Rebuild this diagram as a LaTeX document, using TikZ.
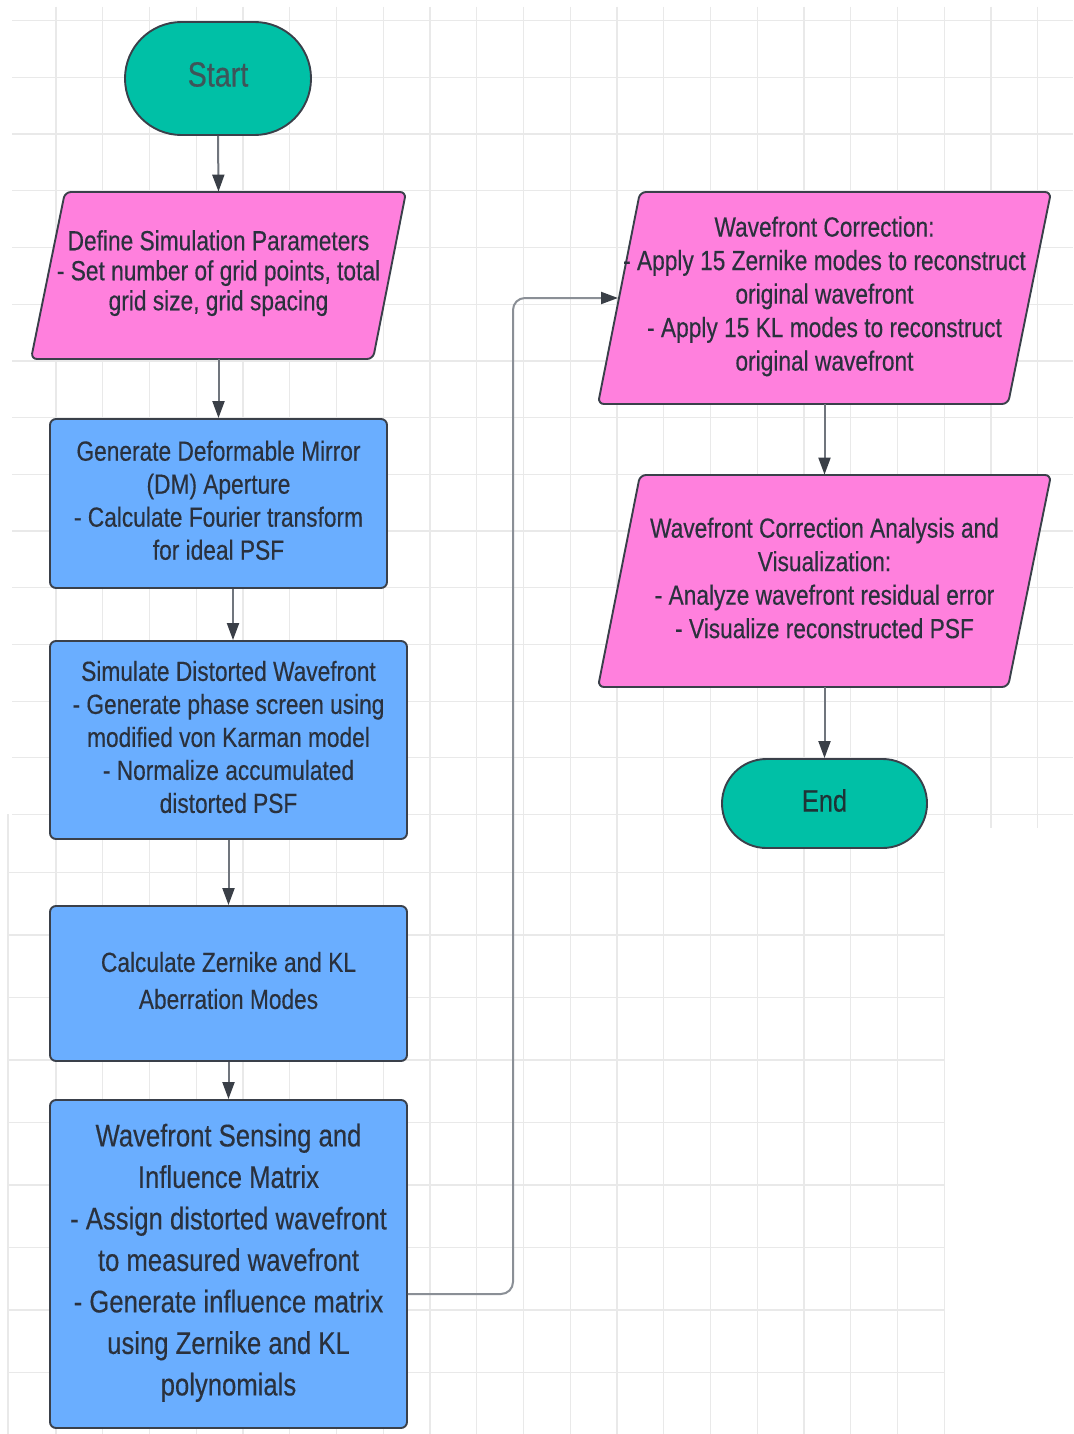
\documentclass[tikz,border=0pt]{standalone}
\usepackage{fontspec}
\setmainfont[FakeStretch=0.82,FakeBold=0.35]{Liberation Sans}
\usetikzlibrary{arrows.meta}
\definecolor{tealf}{HTML}{00C0A6}
\definecolor{pinkf}{HTML}{FF80DD}
\definecolor{bluef}{HTML}{6AAEFF}
\definecolor{edgec}{HTML}{3A404A}
\definecolor{textc}{HTML}{2A313D}
\definecolor{starttext}{HTML}{3E5559}
\definecolor{endtext}{HTML}{1F3336}
\definecolor{gridc}{HTML}{E9E9E9}
\definecolor{linec}{HTML}{70757D}
\definecolor{loopc}{HTML}{8A8F96}
\definecolor{headc}{HTML}{3A3F47}
\begin{document}
\begin{tikzpicture}[x=0.5pt,y=-0.5pt,
  txt/.style={text=textc,align=center,inner sep=0pt,font=\fontsize{13.85pt}{16.5pt}\selectfont},
  shapeedge/.style={draw=edgec,line width=0.95pt},
  blockbox/.style={shapeedge,fill=bluef,rounded corners=3pt},
  para/.style={shapeedge,fill=pinkf,rounded corners=3pt},
  termbox/.style={shapeedge,fill=tealf},
  arr/.style={draw=linec,line width=1pt,-{Triangle[length=8.5pt,width=6pt,color=headc]}},
  gridline/.style={draw=gridc,line width=0.6pt}]
\useasboundingbox (0,0) rectangle (1073,1434);
\fill[white] (0,0) rectangle (1073,1434);
% grid
\foreach \k in {0,...,21}{
  \pgfmathsetmacro\gx{56+46.75*\k}
  \pgfmathsetmacro\gy{\gx<945 ? 1434 : 828}
  \draw[gridline] (\gx,7) -- (\gx,\gy);
}
\foreach \k in {0,...,14}{
  \draw[gridline] (12,{20.7+56.7*\k}) -- (1073,{20.7+56.7*\k});
}
\foreach \k in {0,...,8}{
  \draw[gridline] (8,{872.5+62.5*\k}) -- (945,{872.5+62.5*\k});
}
\draw[gridline] (8,814) -- (8,1434);

% parallelogram shapes
\draw[para] (65,192) -- (406,192) -- (373,359) -- (31,359) -- cycle;
\draw[para] (640,192) -- (1051,192) -- (1008,404) -- (598,404) -- cycle;
\draw[para] (640,475) -- (1051,475) -- (1008,687) -- (598,687) -- cycle;

% shape nodes
\node[termbox, minimum width=93pt, minimum height=56.5pt, rounded corners=28.2pt] (start) at (218,78.5) {};
\node[minimum width=187.5pt, minimum height=83.5pt, inner sep=0pt] (def) at (218.5,275.5) {};
\node[blockbox, minimum width=168.5pt, minimum height=84.5pt] (dm) at (218.5,503.5) {};
\node[blockbox, minimum width=178.5pt, minimum height=99pt] (sim) at (228.5,740) {};
\node[blockbox, minimum width=178.5pt, minimum height=77.5pt] (calc) at (228.5,983.5) {};
\node[blockbox, minimum width=178.5pt, minimum height=164pt] (wfs) at (228.5,1264) {};
\node[minimum width=226.5pt, minimum height=106pt, inner sep=0pt] (wc) at (824.5,298) {};
\node[minimum width=226.5pt, minimum height=106pt, inner sep=0pt] (wca) at (824.5,581) {};
\node[termbox, minimum width=102.5pt, minimum height=44.5pt, rounded corners=22.2pt] (end) at (824.5,803.5) {};

% texts
\node[txt, text=starttext, font=\fontsize{17.5pt}{20pt}\selectfont] (startt) at ([yshift=2pt]start.center) {Start};
\node[txt, font=\fontsize{13.85pt}{15pt}\selectfont] (deft) at ([yshift=1.2pt]def.center)
  {Define Simulation Parameters\\- Set number of grid points, total\\grid size, grid spacing};
\node[txt] (dmt) at ([yshift=1.6pt]dm.center)
  {Generate Deformable Mirror\\(DM) Aperture\\- Calculate Fourier transform\\for ideal PSF};
\node[txt] (simt) at ([yshift=1.5pt]sim.center)
  {Simulate Distorted Wavefront\\- Generate phase screen using\\modified von Karman model\\- Normalize accumulated\\distorted PSF};
\node[txt, font=\fontsize{13.85pt}{18.5pt}\selectfont] (calct) at ([yshift=1.5pt]calc.center)
  {Calculate Zernike and KL\\Aberration Modes};
\node[txt, font=\fontsize{15.65pt}{20.75pt}\selectfont] (wfst) at ([yshift=0.6pt]wfs.center)
  {Wavefront Sensing and\\Influence Matrix\\- Assign distorted wavefront\\to measured wavefront\\- Generate influence matrix\\using Zernike and KL\\polynomials};
\node[txt, font=\fontsize{13.85pt}{16.75pt}\selectfont] (wct) at ([yshift=0.8pt]wc.center)
  {Wavefront Correction:\\- Apply 15 Zernike modes to reconstruct\\original wavefront\\- Apply 15 KL modes to reconstruct\\original wavefront};
\node[txt, font=\fontsize{13.85pt}{16.75pt}\selectfont] (wcat) at ([yshift=1.5pt]wca.center)
  {Wavefront Correction Analysis and\\Visualization:\\- Analyze wavefront residual error\\- Visualize reconstructed PSF};
\node[txt, text=endtext, font=\fontsize{15.5pt}{18pt}\selectfont] (endt) at ([yshift=1.5pt]end.center) {End};

% connectors
\draw[arr] (start.south) -- (def.north);
\draw[arr] (def.south) -- (dm.north);
\draw[arr] ([xshift=7.25pt]dm.south) -- ([xshift=7.25pt]dm.south |- sim.north);
\draw[arr] (sim.south) -- (calc.north);
\draw[arr] (calc.south) -- (wfs.north);
\coordinate (wcin) at (618,298);
\coordinate (loopx) at (513,1294);
\draw[arr,draw=loopc,rounded corners=6pt] ([yshift=-15pt]wfs.east) -- (loopx) -- (loopx |- wcin) -- (wcin);
\draw[arr] (wc.south) -- (wca.north);
\draw[arr] (wca.south) -- (end.north);
\end{tikzpicture}
\end{document}
